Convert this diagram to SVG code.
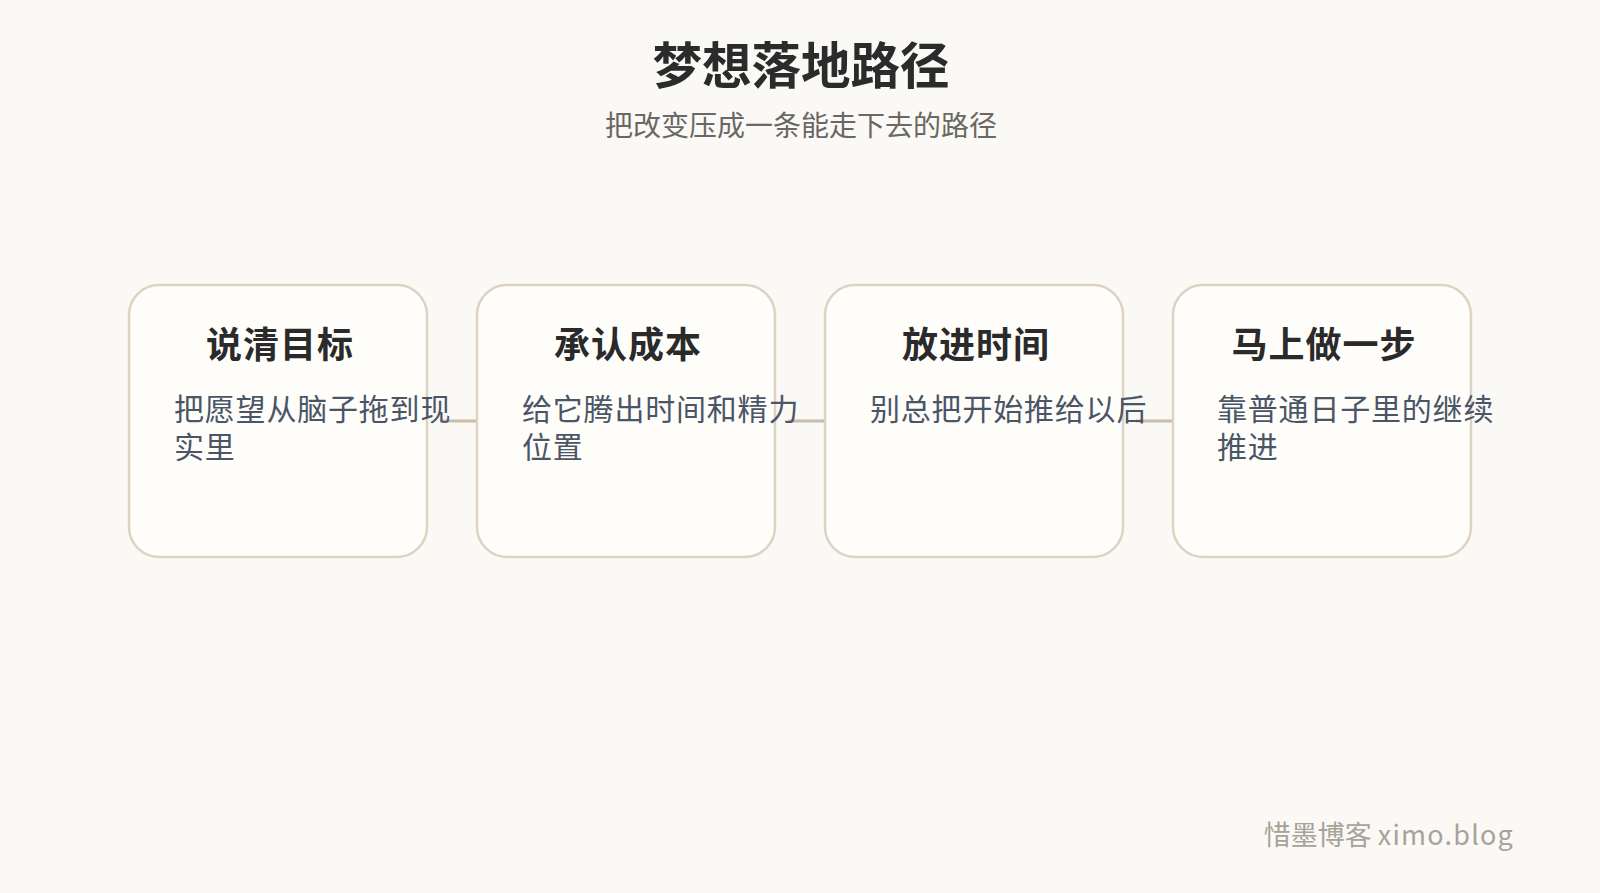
<svg xmlns="http://www.w3.org/2000/svg" width="1600" height="893" viewBox="0 0 1600 893">
<style>
.bg{fill:#faf9f6}
.box{fill:#fefdfa;stroke:#ddd3c3;stroke-width:2.5}
.conn{stroke:#c9bca9;stroke-width:3;fill:none}
.title{font-family:"Noto Sans CJK SC","Noto Sans",sans-serif;font-size:49.5px;font-weight:700;fill:#2b2b2b;text-anchor:middle}
.sub{font-family:"Noto Sans CJK SC","Noto Sans",sans-serif;font-size:28px;fill:#6b6762;text-anchor:middle}
.nt{font-family:"Noto Sans CJK SC","Noto Sans",sans-serif;font-size:36px;font-weight:700;fill:#2a2a2a;text-anchor:middle;letter-spacing:1px}
.nd{font-family:"Noto Sans CJK SC","Noto Sans",sans-serif;font-size:30px;fill:#4a5566;letter-spacing:0.8px}
.foot{font-family:"Noto Sans CJK SC","Noto Sans",sans-serif;font-size:27px;fill:#a8a298;text-anchor:end}
</style>
<rect class="bg" x="0" y="0" width="1600" height="893"/>
<text class="title" x="801" y="84">梦想落地路径</text>
<text class="sub" x="801" y="136">把改变压成一条能走下去的路径</text>
<g id="connectors">
<line class="conn" x1="440" y1="421" x2="477" y2="421"/>
<line class="conn" x1="788" y1="421" x2="825" y2="421"/>
<line class="conn" x1="1136" y1="421" x2="1173" y2="421"/>
</g>
<g id="node1">
<rect class="box" x="129" y="285" width="298" height="272" rx="30"/>
<text class="nt" x="280" y="358">说清目标</text>
<text class="nd" x="174" y="420">把愿望从脑子拖到现</text>
<text class="nd" x="174" y="458">实里</text>
</g>
<g id="node2">
<rect class="box" x="477" y="285" width="298" height="272" rx="30"/>
<text class="nt" x="628" y="358">承认成本</text>
<text class="nd" x="522" y="420">给它腾出时间和精力</text>
<text class="nd" x="522" y="458">位置</text>
</g>
<g id="node3">
<rect class="box" x="825" y="285" width="298" height="272" rx="30"/>
<text class="nt" x="976" y="358">放进时间</text>
<text class="nd" x="870" y="420">别总把开始推给以后</text>
</g>
<g id="node4">
<rect class="box" x="1173" y="285" width="298" height="272" rx="30"/>
<text class="nt" x="1324" y="358">马上做一步</text>
<text class="nd" x="1217" y="420">靠普通日子里的继续</text>
<text class="nd" x="1217" y="458">推进</text>
</g>
<text class="foot" x="1514" y="845">惜墨博客 <tspan letter-spacing="1.2">ximo.blog</tspan></text>
</svg>
